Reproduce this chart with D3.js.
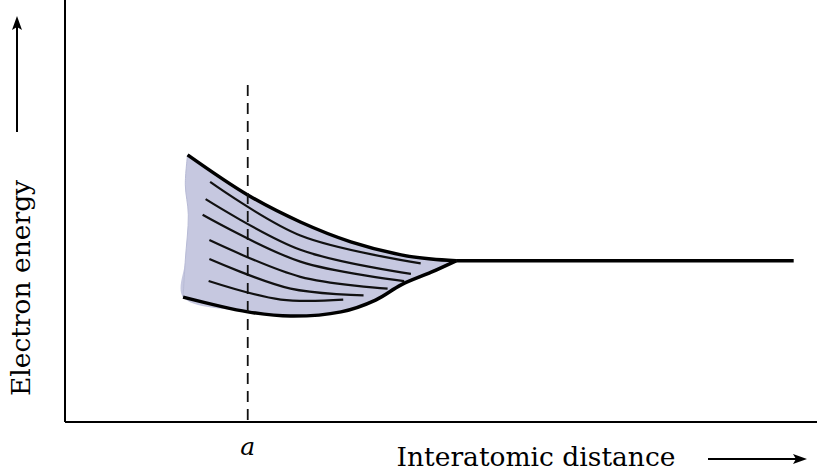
<!DOCTYPE html>
<html><head><meta charset="utf-8">
<script src="https://cdn.jsdelivr.net/npm/d3@7"></script>
<style>body{margin:0;background:#fff}</style></head>
<body><svg id="c" width="817" height="476"></svg>
<script>
// band outline (distance, energy) in arbitrary units 0..100
var topEdge = [[16.3,63.3],[24.3,53.8],[31.3,47.4],[38,42.7],[44.7,39.6],[48.7,38.6],[52,38.2]];
var bottomEdge = [[15.7,29.6],[24.3,26.1],[30,25.1],[36.7,26.1],[41.3,28.9],[44.7,32.5],[48.7,35.5],[52,38.2]];
var leftEdge = [[16.3,63.3],[16,56.2],[16.4,49.1],[16,38.4],[15.7,29.6]];
var flatLevel = [[52,38.2],[96.9,38.2]];
var levels = [
  [[19.3,56.9],[31.3,44.2],[47.3,37.6]],
  [[18.7,52.8],[31.3,40.8],[46,35.1]],
  [[18.3,49.1],[31.3,38.0],[45.1,33.4]],
  [[19.2,43.1],[31.3,34.4],[42.9,31.6]],
  [[19.2,38.6],[30,31.6],[39.7,30.0]],
  [[19.1,33.4],[28.7,29.0],[37,29.0]]
];
var aDistance = 24.3;

var svg = d3.select("#c");
var x = d3.scaleLinear().domain([0,100]).range([65,817]);
var y = d3.scaleLinear().domain([0,100]).range([422,0]);
var line = d3.line().x(function(d){return x(d[0]);}).y(function(d){return y(d[1]);}).curve(d3.curveCatmullRom);

// fill region
var outline = leftEdge.concat(bottomEdge.slice(1), topEdge.slice().reverse().slice(1));
svg.append("path").attr("d", line(outline)+"Z").attr("fill","#c6c8e0").attr("stroke","none");

levels.forEach(function(l){
  svg.append("path").attr("d", line(l)).attr("fill","none").attr("stroke","#111").attr("stroke-width",2.2);
});
svg.append("path").attr("d", line(leftEdge)).attr("fill","none").attr("stroke","#b8bbd6").attr("stroke-width",1);
svg.append("path").attr("d", line(topEdge)).attr("fill","none").attr("stroke","#000").attr("stroke-width",3.5);
svg.append("path").attr("d", line(bottomEdge)).attr("fill","none").attr("stroke","#000").attr("stroke-width",3.5);
svg.append("path").attr("d", line(flatLevel)).attr("fill","none").attr("stroke","#000").attr("stroke-width",3.5);

// dashed a line
svg.append("line").attr("x1",x(aDistance)).attr("x2",x(aDistance)).attr("y1",85).attr("y2",y(0))
  .attr("stroke","#111").attr("stroke-width",1.8).attr("stroke-dasharray","11,7");

// axes
svg.append("line").attr("x1",x(0)).attr("x2",x(0)).attr("y1",0).attr("y2",y(0)).attr("stroke","#000").attr("stroke-width",2);
svg.append("line").attr("x1",x(0)).attr("x2",x(100)).attr("y1",y(0)).attr("y2",y(0)).attr("stroke","#000").attr("stroke-width",2);

var font = "'DejaVu Serif', 'Liberation Serif', serif";
svg.append("text").attr("x",x(aDistance)).attr("y",455).attr("text-anchor","middle")
  .style("font-family",font).style("font-style","italic").style("font-size","25px").text("a");
svg.append("text").attr("x",536).attr("y",466).attr("text-anchor","middle")
  .style("font-family",font).style("font-size","26.5px").text("Interatomic distance");
svg.append("text").attr("transform","translate(30,288) rotate(-90)").attr("text-anchor","middle")
  .style("font-family",font).style("font-size","26.5px").text("Electron energy");

// arrows
svg.append("line").attr("x1",708).attr("x2",798).attr("y1",459).attr("y2",459).attr("stroke","#000").attr("stroke-width",2);
svg.append("path").attr("d","M807,459 L793,454 L796,459 L793,464 Z").attr("fill","#000");
svg.append("line").attr("x1",17).attr("x2",17).attr("y1",132).attr("y2",26).attr("stroke","#000").attr("stroke-width",2);
svg.append("path").attr("d","M17,16 L12,30 L17,27 L22,30 Z").attr("fill","#000");
</script></body></html>
